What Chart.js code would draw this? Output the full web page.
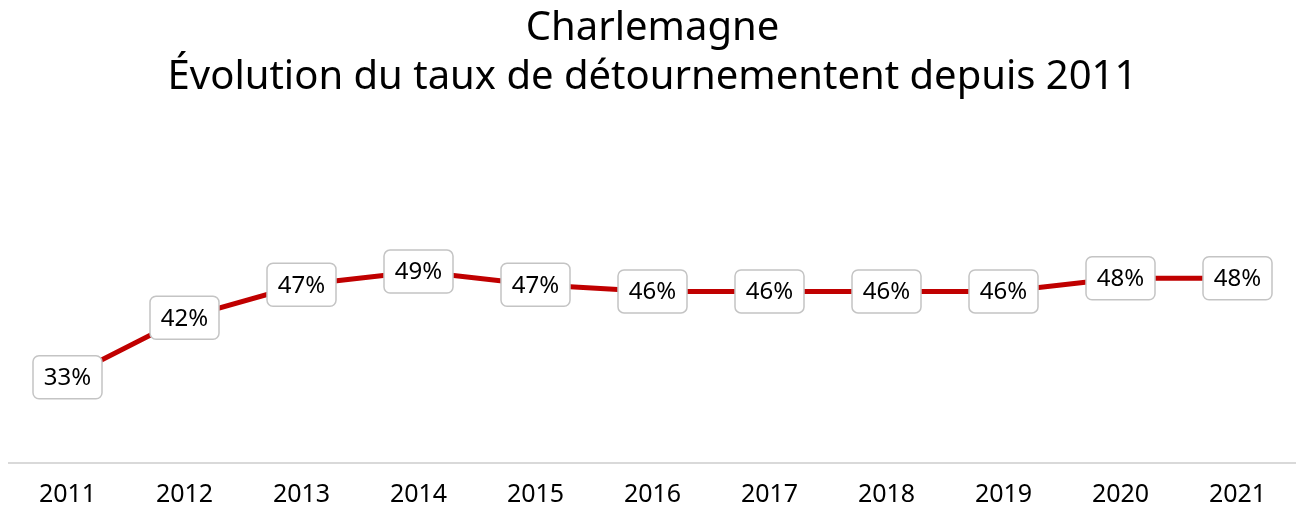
<!DOCTYPE html>
<html>
<head>
<meta charset="utf-8">
<script src="https://cdn.jsdelivr.net/npm/chart.js@4.4.0/dist/chart.umd.min.js"></script>
<style>
  html, body { margin: 0; padding: 0; background: #fff; }
  #wrap { width: 1296px; height: 510px; }
</style>
</head>
<body>
<div id="wrap"><canvas id="chart"></canvas></div>
<script>
const years = ["2011", "2012", "2013", "2014", "2015", "2016", "2017", "2018", "2019", "2020", "2021"];
const rates = [33, 42, 47, 49, 47, 46, 46, 46, 46, 48, 48];
const titleLines = ["Charlemagne", "Évolution du taux de détournementent depuis 2011"];

const FONT = "'Noto Sans', 'Open Sans', sans-serif";

// boxed value labels on each point
const boxLabels = {
  id: "boxLabels",
  afterDatasetsDraw(chart) {
    const ctx = chart.ctx;
    const meta = chart.getDatasetMeta(0);
    ctx.save();
    ctx.font = "24px " + FONT;
    ctx.textAlign = "center";
    ctx.textBaseline = "middle";
    meta.data.forEach((pt, i) => {
      const txt = rates[i] + "%";
      const w = 69, h = 43;
      ctx.beginPath();
      ctx.roundRect(pt.x - w / 2, pt.y - h / 2, w, h, 6);
      ctx.fillStyle = "#fff";
      ctx.fill();
      ctx.lineWidth = 1.5;
      ctx.strokeStyle = "#c4c4c4";
      ctx.stroke();
      ctx.fillStyle = "#000";
      ctx.fillText(txt, pt.x, pt.y + 1);
    });
    ctx.restore();
  }
};

const chart = document.getElementById("chart").getContext("2d");

new Chart(chart, {
  type: "line",
  data: {
    labels: years,
    datasets: [
      {
        label: "Taux",
        data: rates,
        borderColor: "#c00000",
        borderWidth: 5,
        pointRadius: 0,
        tension: 0,
      },
    ],
  },
  options: {
    responsive: true,
    maintainAspectRatio: false,
    animation: false,
    layout: { padding: { left: 9, right: 0, top: 0, bottom: -17 } },
    plugins: {
      legend: { display: false },
      tooltip: { enabled: false },
      title: {
        display: true,
        text: titleLines,
        color: "#000",
        font: { family: FONT, size: 40, weight: "normal", lineHeight: 1.225 },
        padding: { top: 4, bottom: 31 },
      },
    },
    scales: {
      x: {
        offset: true,
        grid: { display: false, drawTicks: false },
        border: { display: true, color: "#d9d9d9", width: 2 },
        ticks: { color: "#000", font: { family: FONT, size: 25 }, padding: 17 },
      },
      y: {
        display: false,
        min: 20,
        max: 70,
      },
    },
  },
  plugins: [boxLabels],
});
</script>
</body>
</html>
